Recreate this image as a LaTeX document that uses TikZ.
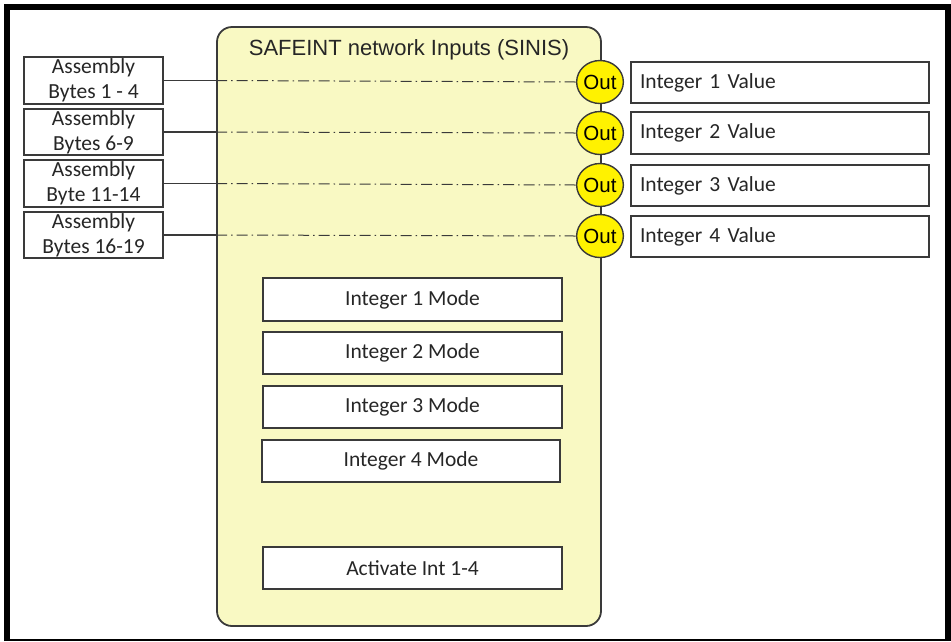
\documentclass[tikz,border=0pt]{standalone}
\usepackage{fontspec}
\setmainfont{Carlito}
\newfontfamily\arialf{Liberation Sans}
\usetikzlibrary{shapes.geometric}
\definecolor{paleyel}{HTML}{F9F9C3}
\definecolor{brightyel}{HTML}{FFF200}
\definecolor{edgegray}{HTML}{3A3A3A}
\definecolor{txtgray}{HTML}{262626}
\tikzset{
  box/.style={draw=edgegray, line width=1.6pt, fill=white, inner sep=0pt, text=txtgray,
    font=\fontsize{21.5}{25}\selectfont, align=center},
  rbox/.style={box, align=left, text width=280pt, inner xsep=9pt, inner ysep=0pt},
  outc/.style={ellipse, draw=edgegray, line width=1.4pt, fill=brightyel, inner sep=0pt,
    minimum width=44pt, minimum height=43pt, font=\arialf\fontsize{20.5}{22}\selectfont},
  dashdot/.style={line width=1pt, draw=edgegray, dash pattern=on 11pt off 4pt on 1.5pt off 4pt},
  solidln/.style={line width=1.6pt, draw=edgegray}
}
\begin{document}
\begin{tikzpicture}[x=1pt,y=-1pt]
\useasboundingbox (0,0) rectangle (951,641);
% outer frame
\draw[line width=6pt] (7,641) -- (7,7) -- (948,7) -- (948,641);
\draw[line width=1.5pt] (4,640) -- (951,640);
% main block
\node[draw=edgegray, line width=1.8pt, fill=paleyel, rounded corners=15pt, inner sep=0pt,
  minimum width=384pt, minimum height=599pt] (big) at (409,326.5) {};
\node[font=\arialf\fontsize{22}{24}\selectfont, text=txtgray, anchor=base, inner sep=0pt] (title) at (409,55) {SAFEINT network Inputs (SINIS)};
% left boxes
\node[box, minimum width=139pt, minimum height=47pt] (a1) at (93.5,80.5) {Assembly\\Bytes 1 - 4};
\node[box, minimum width=139pt, minimum height=46pt] (a2) at (93.5,132) {Assembly\\Bytes 6-9};
\node[box, minimum width=139pt, minimum height=47pt] (a3) at (93.5,183.5) {Assembly\\Byte 11-14};
\node[box, minimum width=139pt, minimum height=46pt] (a4) at (93.5,235) {Assembly\\Bytes 16-19};
% out circles
\node[outc] (o1) at (600,82) {Out};
\node[outc] (o2) at (600,133) {Out};
\node[outc] (o3) at (600,185) {Out};
\node[outc] (o4) at (600,236) {Out};
% right boxes
\node[rbox, minimum height=41pt] (v1) at (780,82.5) {Integer 1 Value};
\node[rbox, minimum height=42pt] (v2) at (780,133) {Integer 2 Value};
\node[rbox, minimum height=41pt] (v3) at (780,185.5) {Integer 3 Value};
\node[rbox, minimum height=41pt] (v4) at (780,236.5) {Integer 4 Value};
% mode boxes
\node[box, minimum width=299pt, minimum height=43pt] (m1) at (412.5,299.5) {Integer 1 Mode};
\node[box, minimum width=299pt, minimum height=42pt] (m2) at (412.5,353) {Integer 2 Mode};
\node[box, minimum width=299pt, minimum height=42pt] (m3) at (412.5,407) {Integer 3 Mode};
\node[box, minimum width=298pt, minimum height=42pt] (m4) at (411,461) {Integer 4 Mode};
\node[box, minimum width=299pt, minimum height=42pt] (act) at (412.5,568) {Activate Int 1-4};
% connectors
\foreach \i in {1,2,3,4}{
  \coordinate (e\i) at (a\i.east -| big.west);
  \draw[solidln] (a\i.east) -- (e\i);
  \draw[dashdot] (e\i) -- (o\i.west);
}
\end{tikzpicture}
\end{document}
